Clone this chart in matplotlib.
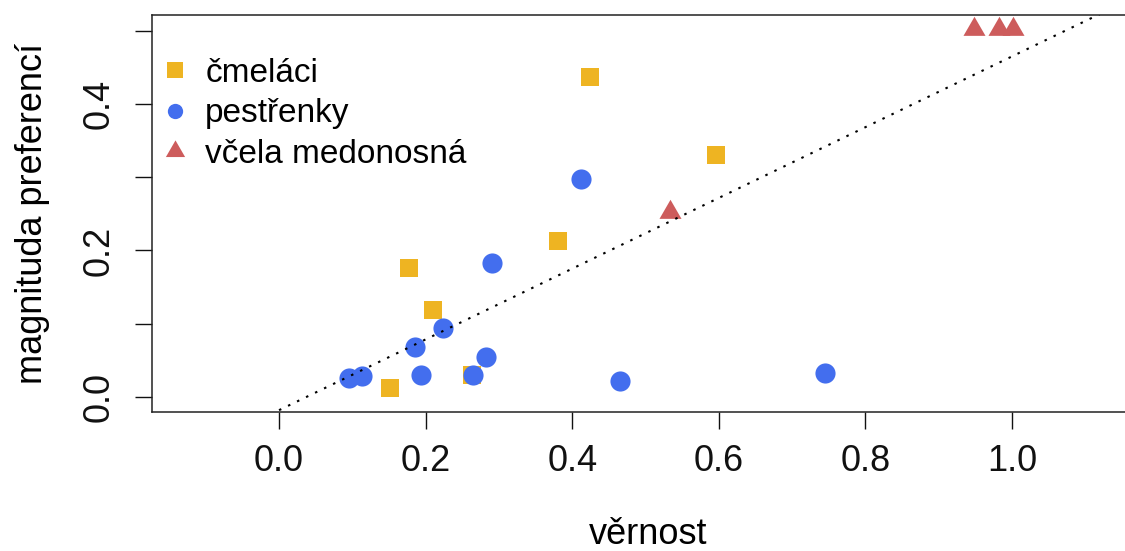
import matplotlib.pyplot as plt
from matplotlib.lines import Line2D

plt.rcParams['font.family'] = ['Liberation Sans', 'DejaVu Sans']

# data
cmelaci_x = [0.424, 0.596, 0.381, 0.177, 0.210, 0.151, 0.263]
cmelaci_y = [0.437, 0.330, 0.213, 0.176, 0.119, 0.012, 0.030]

pestrenky_x = [0.412, 0.291, 0.224, 0.186, 0.283, 0.193, 0.264, 0.095, 0.113, 0.465, 0.745]
pestrenky_y = [0.298, 0.183, 0.094, 0.068, 0.055, 0.030, 0.030, 0.026, 0.029, 0.022, 0.033]

vcela_x = [0.533, 0.948, 0.982, 1.001]
vcela_y = [0.253, 0.502, 0.502, 0.502]

# fitted line (dotted)
fit_intercept = -0.018
fit_slope = 0.483
fit_x = [0.0, 1.25]

labels = ['čmeláci', 'pestřenky', 'včela medonosná']
colors = ['#EEB422', '#436EEE', '#CD5C5C']

xticks = [0.0, 0.2, 0.4, 0.6, 0.8, 1.0]
xticklabels = ['0.0', '0.2', '0.4', '0.6', '0.8', '1.0']
yticks = [0.0, 0.1, 0.2, 0.3, 0.4, 0.5]
yticklabels = ['0.0', '', '0.2', '', '0.4', '']

tri = [(0, 1), (0.866, -0.5), (-0.866, -0.5)]

W, H = 1125, 551
fig = plt.figure(figsize=(W / 100, H / 100), dpi=100)
ax = fig.add_axes([152 / W, (H - 412) / H, 992 / W, 397 / H])

ax.plot(cmelaci_x, cmelaci_y, 's', color=colors[0], markersize=13, markeredgewidth=0, zorder=3)
ax.plot(pestrenky_x, pestrenky_y, 'o', color=colors[1], markersize=14.5, markeredgewidth=0, zorder=3)
ax.plot(vcela_x, vcela_y, marker=tri, linestyle='none', color=colors[2], markersize=18.3,
        markeredgewidth=0, zorder=3)

fit_y = [fit_intercept + fit_slope * v for v in fit_x]
ax.plot(fit_x, fit_y, color='black', lw=1.5, linestyle=(0, (1.2, 3.6)), zorder=4)

ax.set_xlim(-0.1733, 1.1800)
ax.set_ylim(-0.0205, 0.5215)

ax.set_xticks(xticks)
ax.set_xticklabels(xticklabels)
ax.set_yticks(yticks)
ax.set_yticklabels(yticklabels)
ax.tick_params(axis='both', direction='out', length=12.2, width=1.0, labelsize=26, colors='#111111')
ax.tick_params(axis='x', pad=10.5)
ax.tick_params(axis='y', pad=26)
plt.setp(ax.get_yticklabels(), rotation=90, va='center', ha='center')

for side in ['left', 'top', 'bottom']:
    ax.spines[side].set_linewidth(1.1)
    ax.spines[side].set_color('#222222')
ax.spines['right'].set_visible(False)

ax.set_xlabel('věrnost', fontsize=26)
ax.set_ylabel('magnituda preferencí', fontsize=26)
ax.xaxis.set_label_coords(0.5, (412 - 535) / 397)
ax.xaxis.label.set_va('center')
ax.yaxis.set_label_coords((33 - 152) / 992, 0.5)
ax.yaxis.label.set_va('center')

handles = [
    Line2D([], [], marker='s', linestyle='none', color=colors[0], markersize=11, markeredgewidth=0),
    Line2D([], [], marker='o', linestyle='none', color=colors[1], markersize=11, markeredgewidth=0),
    Line2D([], [], marker=tri, linestyle='none', color=colors[2], markersize=16, markeredgewidth=0),
]
ax.legend(handles, labels, loc='upper left', bbox_to_anchor=(-5 / 992, (412 - 46) / 397),
          frameon=False, fontsize=24, handlelength=1.0, handletextpad=0.4,
          labelspacing=0.29, borderaxespad=0.0, borderpad=0.35)

fig.savefig('out.png', dpi=100)
